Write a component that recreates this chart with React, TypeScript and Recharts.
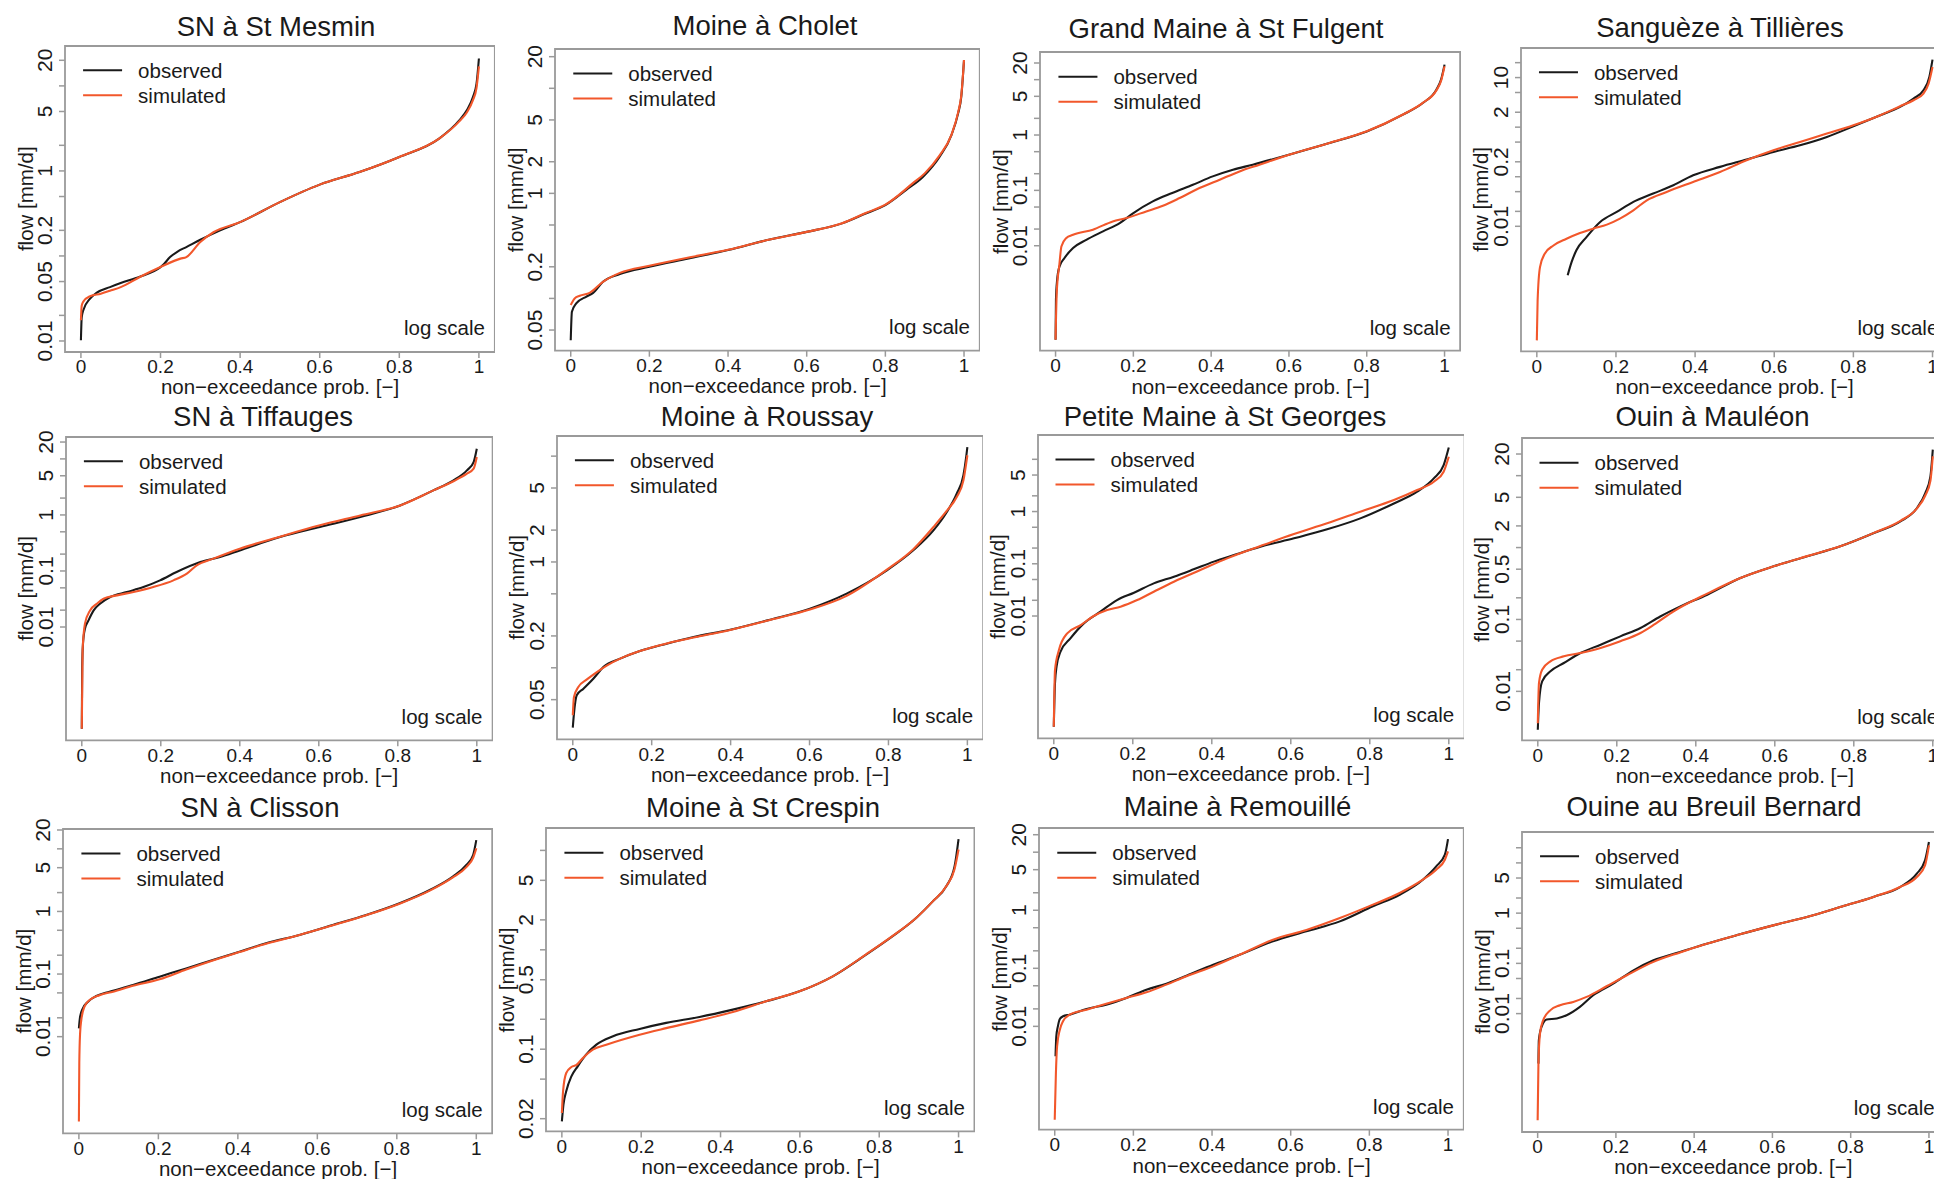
import React from 'react';
import { LineChart, Line, XAxis, YAxis, ReferenceArea } from 'recharts';

type Pt = [number, number];

const FONT = '"Liberation Sans", Arial, Helvetica, sans-serif';
const TEXT = '#1a1a1a';
const FRAME = '#9a9a9a';

const stationNames = [
  'SN à St Mesmin', 'Moine à Cholet', 'Grand Maine à St Fulgent', 'Sanguèze à Tillières',
  'SN à Tiffauges', 'Moine à Roussay', 'Petite Maine à St Georges', 'Ouin à Mauléon',
  'SN à Clisson', 'Moine à St Crespin', 'Maine à Remouillé', 'Ouine au Breuil Bernard',
];
const seriesNames = ['observed', 'simulated'];
const seriesColors = ['#1a1a1a', '#f2572b'];
const xTickValues = [0, 0.2, 0.4, 0.6, 0.8, 1];
const xAxisTitle = 'non−exceedance prob. [−]';
const yAxisTitle = 'flow [mm/d]';
const scaleNote = 'log scale';

// y ticks (all drawn) and labelled subsets, per panel
const yTicksA = [0.01, 0.02, 0.05, 0.1, 0.2, 0.5, 1, 2, 5, 10, 20];
const yTicksB = [0.05, 0.1, 0.2, 0.5, 1, 2, 5, 10, 20];
const yTicksC = [0.05, 0.1, 0.2, 0.5, 1, 2, 5, 10];
const yTicksD = [0.01, 0.02, 0.05, 0.1, 0.2, 0.5, 1, 2, 5, 10];
const yTicksE = [0.02, 0.05, 0.1, 0.2, 0.5, 1, 2, 5, 10];
const yTickSets = [yTicksA, yTicksB, yTicksA, yTicksA, yTicksA, yTicksC, yTicksD, yTicksA, yTicksA, yTicksE, yTicksA, yTicksA];
const yLabelSets = [
  [0.01, 0.05, 0.2, 1, 5, 20],
  [0.05, 0.2, 1, 2, 5, 20],
  [0.01, 0.1, 1, 5, 20],
  [0.01, 0.2, 2, 10],
  [0.01, 0.1, 1, 5, 20],
  [0.05, 0.2, 1, 2, 5],
  [0.01, 0.1, 1, 5],
  [0.01, 0.1, 0.5, 2, 5, 20],
  [0.01, 0.1, 1, 5, 20],
  [0.02, 0.1, 0.5, 2, 5],
  [0.01, 0.1, 1, 5, 20],
  [0.01, 0.1, 1, 5],
];

// ---- flow duration curves: [non-exceedance prob, flow mm/d] ----
const obs1: Pt[] = [[0,0.0102],[0.002,0.019],[0.006,0.023],[0.023,0.0315],[0.04,0.037],[0.073,0.043],[0.1,0.048],[0.148,0.057],[0.2,0.074],[0.206,0.078],[0.224,0.097],[0.242,0.112],[0.266,0.128],[0.3,0.155],[0.35,0.2],[0.4,0.25],[0.5,0.43],[0.6,0.69],[0.7,0.97],[0.8,1.46],[0.9,2.4],[0.95,3.9],[0.97,5.2],[0.985,7.4],[0.994,10.6],[1,21]];
const sim1: Pt[] = [[0,0.0175],[0.002,0.026],[0.006,0.029],[0.023,0.0336],[0.05,0.036],[0.073,0.039],[0.1,0.043],[0.148,0.0566],[0.2,0.074],[0.25,0.093],[0.265,0.097],[0.3,0.146],[0.333,0.19],[0.4,0.25],[0.5,0.43],[0.6,0.69],[0.7,0.97],[0.8,1.46],[0.9,2.4],[0.95,3.8],[0.97,4.9],[0.985,6.8],[0.994,9.5],[1,17]];

const obs2: Pt[] = [[0,0.04],[0.003,0.0746],[0.014,0.0897],[0.04,0.104],[0.057,0.113],[0.082,0.144],[0.125,0.171],[0.2,0.2],[0.3,0.24],[0.4,0.289],[0.506,0.364],[0.6,0.43],[0.69,0.518],[0.75,0.644],[0.8,0.774],[0.853,1.08],[0.896,1.44],[0.938,2.23],[0.968,3.59],[0.985,5.77],[0.993,8.3],[1,18.6]];
const sim2: Pt[] = [[0,0.0866],[0.01,0.1],[0.023,0.106],[0.048,0.113],[0.082,0.144],[0.125,0.175],[0.2,0.205],[0.3,0.245],[0.4,0.29],[0.506,0.364],[0.6,0.43],[0.69,0.52],[0.75,0.65],[0.8,0.78],[0.87,1.25],[0.9,1.55],[0.938,2.3],[0.968,3.6],[0.985,5.9],[0.993,8.5],[1,18.6]];

const obs3: Pt[] = [[0,0.0002],[0.001,0.00106],[0.004,0.0024],[0.01,0.0042],[0.023,0.006],[0.045,0.0091],[0.079,0.0128],[0.122,0.0182],[0.165,0.0257],[0.2,0.0389],[0.25,0.0632],[0.3,0.0895],[0.353,0.126],[0.404,0.179],[0.456,0.236],[0.507,0.291],[0.6,0.441],[0.704,0.716],[0.8,1.16],[0.893,2.33],[0.944,3.78],[0.979,6.59],[0.991,10],[1,18.7]];
const sim3: Pt[] = [[0,0.0002],[0.003,0.0014],[0.01,0.0047],[0.015,0.0097],[0.027,0.0137],[0.045,0.0158],[0.096,0.0195],[0.147,0.0275],[0.182,0.0316],[0.233,0.0417],[0.276,0.0528],[0.319,0.0727],[0.37,0.11],[0.422,0.156],[0.473,0.22],[0.524,0.291],[0.6,0.44],[0.704,0.72],[0.8,1.17],[0.893,2.35],[0.944,3.8],[0.979,6.4],[0.991,9.5],[1,17.5]];

const obs4: Pt[] = [[0.078,0.00103],[0.088,0.00191],[0.1,0.00328],[0.126,0.0061],[0.16,0.0122],[0.202,0.0195],[0.244,0.031],[0.294,0.0457],[0.345,0.0673],[0.395,0.107],[0.463,0.158],[0.53,0.222],[0.598,0.316],[0.665,0.431],[0.733,0.636],[0.8,1.04],[0.868,1.74],[0.918,2.56],[0.952,3.77],[0.977,5.55],[0.992,10.3],[1,23]];
const sim4: Pt[] = [[0,0.00005],[0.002,0.00032],[0.008,0.0015],[0.02,0.0028],[0.042,0.0041],[0.075,0.0056],[0.109,0.0073],[0.143,0.009],[0.177,0.0108],[0.21,0.0143],[0.244,0.021],[0.278,0.0335],[0.328,0.0493],[0.395,0.0785],[0.463,0.125],[0.53,0.215],[0.598,0.342],[0.665,0.503],[0.733,0.741],[0.8,1.09],[0.868,1.74],[0.918,2.64],[0.952,3.49],[0.977,4.75],[0.99,7.57],[1,16.4]];

const obs5: Pt[] = [[0,0.000153],[0.001,0.00193],[0.003,0.005],[0.008,0.0093],[0.017,0.0131],[0.03,0.0198],[0.046,0.026],[0.072,0.0343],[0.114,0.0421],[0.156,0.0516],[0.198,0.068],[0.24,0.0957],[0.3,0.144],[0.35,0.177],[0.4,0.233],[0.502,0.403],[0.603,0.609],[0.705,0.918],[0.806,1.48],[0.89,2.74],[0.941,4.14],[0.975,6.24],[0.992,8.8],[1,15.2]];
const sim5: Pt[] = [[0,0.000153],[0.002,0.0038],[0.008,0.0115],[0.021,0.0198],[0.038,0.026],[0.055,0.032],[0.089,0.0367],[0.131,0.0421],[0.181,0.0516],[0.232,0.068],[0.266,0.0893],[0.291,0.126],[0.333,0.166],[0.4,0.25],[0.502,0.41],[0.603,0.652],[0.705,0.98],[0.806,1.48],[0.89,2.74],[0.941,4],[0.975,5.45],[0.992,6.69],[1,10.8]];

const obs6: Pt[] = [[0,0.0272],[0.003,0.0369],[0.01,0.055],[0.027,0.0635],[0.052,0.0789],[0.078,0.102],[0.12,0.122],[0.17,0.144],[0.238,0.169],[0.306,0.195],[0.399,0.229],[0.5,0.285],[0.601,0.362],[0.694,0.502],[0.796,0.834],[0.863,1.29],[0.914,1.99],[0.948,2.97],[0.973,4.42],[0.99,6.59],[0.997,9.82],[1,12.2]];
const sim6: Pt[] = [[0,0.0356],[0.003,0.053],[0.014,0.0659],[0.035,0.0773],[0.061,0.0912],[0.086,0.105],[0.12,0.122],[0.17,0.144],[0.238,0.17],[0.306,0.193],[0.399,0.228],[0.5,0.283],[0.601,0.355],[0.694,0.478],[0.796,0.845],[0.863,1.32],[0.914,2.14],[0.948,3.05],[0.973,4.11],[0.99,5.9],[1,10.2]];

const obs7: Pt[] = [[0,0.000076],[0.003,0.00051],[0.007,0.00107],[0.017,0.00207],[0.042,0.00373],[0.076,0.00723],[0.118,0.0121],[0.16,0.0202],[0.203,0.0279],[0.253,0.0422],[0.304,0.0566],[0.354,0.0782],[0.405,0.11],[0.456,0.147],[0.523,0.212],[0.608,0.307],[0.692,0.456],[0.776,0.74],[0.861,1.43],[0.92,2.4],[0.962,4.32],[0.987,7.77],[1,16.9]];
const sim7: Pt[] = [[0,0.000076],[0.003,0.00092],[0.013,0.00223],[0.034,0.00466],[0.068,0.0067],[0.101,0.01],[0.135,0.013],[0.169,0.0151],[0.211,0.0202],[0.253,0.0292],[0.304,0.0454],[0.371,0.0759],[0.439,0.127],[0.523,0.219],[0.608,0.371],[0.692,0.594],[0.776,0.993],[0.861,1.66],[0.92,2.58],[0.962,3.72],[0.987,5.8],[1,11.2]];

const obs8: Pt[] = [[0,0.00293],[0.003,0.0069],[0.011,0.0138],[0.032,0.019],[0.066,0.0248],[0.108,0.0341],[0.159,0.0446],[0.209,0.0582],[0.26,0.076],[0.31,0.11],[0.361,0.152],[0.429,0.221],[0.513,0.377],[0.597,0.548],[0.682,0.755],[0.766,1.04],[0.851,1.59],[0.918,2.31],[0.96,3.55],[0.981,5.74],[0.994,9.78],[1,23]];
const sim8: Pt[] = [[0,0.0036],[0.003,0.0131],[0.011,0.02],[0.032,0.0261],[0.066,0.0307],[0.108,0.0341],[0.159,0.0401],[0.209,0.0497],[0.26,0.0648],[0.294,0.0845],[0.344,0.13],[0.429,0.229],[0.513,0.377],[0.597,0.548],[0.682,0.76],[0.766,1.04],[0.851,1.6],[0.918,2.35],[0.96,3.5],[0.981,5.3],[0.994,8.5],[1,18.6]];

const obs9: Pt[] = [[0,0.0136],[0.003,0.0208],[0.01,0.0283],[0.023,0.0362],[0.044,0.0446],[0.077,0.0523],[0.136,0.0668],[0.203,0.0908],[0.27,0.123],[0.337,0.168],[0.404,0.228],[0.471,0.31],[0.555,0.421],[0.639,0.607],[0.723,0.877],[0.807,1.35],[0.883,2.2],[0.941,3.6],[0.975,5.52],[0.992,7.98],[1,13.8]];
const sim9: Pt[] = [[0,0.00044],[0.001,0.00375],[0.003,0.0113],[0.006,0.0184],[0.014,0.0301],[0.027,0.0385],[0.052,0.046],[0.086,0.0523],[0.136,0.065],[0.203,0.0824],[0.27,0.118],[0.337,0.165],[0.404,0.225],[0.471,0.305],[0.555,0.42],[0.639,0.6],[0.723,0.87],[0.807,1.33],[0.883,2.15],[0.941,3.5],[0.975,5.1],[0.992,7.2],[1,10.2]];

const obs10: Pt[] = [[0,0.0188],[0.004,0.0277],[0.011,0.0377],[0.024,0.0533],[0.04,0.0673],[0.061,0.0881],[0.087,0.111],[0.129,0.135],[0.196,0.16],[0.263,0.184],[0.347,0.211],[0.431,0.25],[0.515,0.303],[0.599,0.382],[0.683,0.541],[0.767,0.894],[0.834,1.37],[0.893,2.09],[0.935,3.07],[0.969,4.35],[0.99,6.92],[1,13]];
const sim10: Pt[] = [[0,0.0228],[0.003,0.0377],[0.011,0.0576],[0.024,0.0662],[0.036,0.069],[0.053,0.0817],[0.078,0.099],[0.112,0.111],[0.196,0.14],[0.263,0.163],[0.347,0.195],[0.431,0.237],[0.515,0.303],[0.599,0.382],[0.683,0.541],[0.767,0.9],[0.834,1.38],[0.893,2.09],[0.935,3.07],[0.969,4.35],[0.99,6.5],[1,10.2]];

const obs11: Pt[] = [[0.002,0.00305],[0.004,0.00673],[0.008,0.01],[0.013,0.0134],[0.021,0.0149],[0.038,0.0159],[0.081,0.0199],[0.131,0.0236],[0.182,0.0308],[0.233,0.0428],[0.284,0.0543],[0.335,0.0746],[0.403,0.115],[0.47,0.171],[0.555,0.291],[0.64,0.433],[0.725,0.643],[0.809,1.17],[0.877,1.85],[0.936,3.36],[0.97,5.7],[0.992,9.06],[1,16.8]];
const sim11: Pt[] = [[0,0.000247],[0.003,0.00157],[0.006,0.00453],[0.013,0.00877],[0.021,0.0122],[0.038,0.0159],[0.081,0.0194],[0.131,0.0245],[0.182,0.0308],[0.233,0.0385],[0.284,0.0523],[0.335,0.0729],[0.403,0.108],[0.47,0.171],[0.555,0.311],[0.64,0.458],[0.725,0.735],[0.809,1.25],[0.877,1.98],[0.936,3.36],[0.97,4.99],[0.992,7.42],[1,10.3]];

const obs12: Pt[] = [[0.002,0.00101],[0.003,0.00295],[0.01,0.00543],[0.023,0.0076],[0.049,0.008],[0.074,0.00927],[0.108,0.0136],[0.142,0.0232],[0.193,0.0395],[0.245,0.0728],[0.296,0.115],[0.364,0.169],[0.432,0.247],[0.517,0.379],[0.602,0.571],[0.688,0.838],[0.773,1.32],[0.858,2.1],[0.926,3.31],[0.969,6.1],[0.99,11.2],[1,26]];
const sim12: Pt[] = [[0,0.0000755],[0.002,0.001],[0.006,0.004],[0.014,0.00736],[0.032,0.0116],[0.057,0.0147],[0.091,0.0171],[0.125,0.0215],[0.176,0.035],[0.228,0.058],[0.296,0.107],[0.364,0.165],[0.432,0.245],[0.517,0.379],[0.602,0.571],[0.688,0.838],[0.773,1.32],[0.858,2.1],[0.926,3.31],[0.969,5.24],[0.99,8.93],[1,22.3]];

const observedSets = [obs1, obs2, obs3, obs4, obs5, obs6, obs7, obs8, obs9, obs10, obs11, obs12];
const simulatedSets = [sim1, sim2, sim3, sim4, sim5, sim6, sim7, sim8, sim9, sim10, sim11, sim12];

// y-axis ranges (log scale) per panel
const yDomains: [number, number][] = [
  [0.00742, 29.45], [0.0318, 23.67], [0.000127, 31.6], [0.0000301, 39.5],
  [0.0000951, 24.6], [0.0211, 15.5], [0.0000456, 29.2], [0.00208, 33.4],
  [0.000286, 20.74], [0.0149, 16.8], [0.000166, 26.1], [0.000044, 41.2],
];

// ---- layout (pixel positions of each panel) ----
const panelLayout = [
  { x0: 81, x1: 479, top: 45.7, bottom: 351.7, titleX: 276, titleY: 26 },
  { x0: 571, x1: 964.3, top: 49, bottom: 350.7, titleX: 765, titleY: 25 },
  { x0: 1056, x1: 1445, top: 52.3, bottom: 351, titleX: 1226, titleY: 28 },
  { x0: 1536.8, x1: 1932.5, top: 47.7, bottom: 351, titleX: 1720, titleY: 27 },
  { x0: 81.7, x1: 476.7, top: 436.7, bottom: 740, titleX: 263, titleY: 416.5 },
  { x0: 572.7, x1: 967.3, top: 435.7, bottom: 739, titleX: 767, titleY: 416.5 },
  { x0: 1053.3, x1: 1448.3, top: 435, bottom: 738.3, titleX: 1225, titleY: 416.5 },
  { x0: 1537.3, x1: 1932.3, top: 438.3, bottom: 740.7, titleX: 1712.5, titleY: 416.5 },
  { x0: 79.3, x1: 476.7, top: 829, bottom: 1133.3, titleX: 260, titleY: 807 },
  { x0: 562.3, x1: 959, top: 828.3, bottom: 1131.7, titleX: 763, titleY: 807 },
  { x0: 1055, x1: 1448.3, top: 828.3, bottom: 1130, titleX: 1237.5, titleY: 806.5 },
  { x0: 1537.7, x1: 1929, top: 831.7, bottom: 1131.7, titleX: 1714, titleY: 806 },
];

const YW = 70;
const XH = 60;
const MT = 24;
const XPAD = 0.04;

function box(k: number) {
  const L = panelLayout[k];
  const s = L.x1 - L.x0;
  const left = L.x0 - XPAD * s;
  const right = L.x1 + XPAD * s;
  return { left, right, top: L.top, bottom: L.bottom, w: right - left, h: L.bottom - L.top };
}

function Panel({ k }: { k: number }) {
  const b = box(k);
  const [lo, hi] = yDomains[k];
  const labels = yLabelSets[k];
  const sets = [observedSets[k], simulatedSets[k]].map((arr) => arr.map(([p, q]) => ({ p, q })));
  const renderX = (props: any) => (
    <text x={props.x} y={MT + b.h + 15} textAnchor="middle" dominantBaseline="central"
      fontSize={19} fontFamily={FONT} fill={TEXT}>{String(props.payload.value)}</text>
  );
  const renderY = (props: any) => {
    const v = props.payload.value;
    if (!labels.some((l) => Math.abs(l - v) < 1e-12)) return <g />;
    const cx = YW - 20;
    return (
      <text x={cx} y={props.y} transform={`rotate(-90 ${cx} ${props.y})`} textAnchor="middle"
        dominantBaseline="central" fontSize={21} fontFamily={FONT} fill={TEXT}>{String(v)}</text>
    );
  };
  return (
    <div style={{ position: 'absolute', left: b.left - YW, top: b.top - MT }}>
      <LineChart width={b.w + YW} height={b.h + XH + MT} margin={{ top: MT, right: 0, bottom: 0, left: 0 }}>
        <XAxis dataKey="p" type="number" domain={[-XPAD, 1 + XPAD]} ticks={xTickValues} interval={0}
          allowDataOverflow height={XH} tickSize={6} tickMargin={0} axisLine={false}
          tickLine={{ stroke: FRAME, strokeWidth: 1.5 }} tick={renderX} />
        <YAxis dataKey="q" type="number" scale="log" domain={[lo, hi]} ticks={yTickSets[k]} interval={0}
          allowDataOverflow width={YW} tickSize={6} tickMargin={0} axisLine={false}
          tickLine={{ stroke: FRAME, strokeWidth: 1.5 }} tick={renderY} />
        <ReferenceArea x1={-XPAD} x2={1 + XPAD} y1={lo} y2={hi} fill="none" fillOpacity={0}
          stroke={FRAME} strokeWidth={1.8} ifOverflow="visible" />
        {sets.map((d, i) => (
          <Line key={seriesNames[i]} data={d} dataKey="q" name={seriesNames[i]} type="monotone"
            stroke={seriesColors[i]} strokeWidth={2.1} dot={false} activeDot={false}
            isAnimationActive={false} />
        ))}
      </LineChart>
    </div>
  );
}

function Annotations({ k }: { k: number }) {
  const b = box(k);
  const L = panelLayout[k];
  const cy = (b.top + b.bottom) / 2;
  const ylx = b.left - 40;
  return (
    <g fontFamily={FONT} fill={TEXT}>
      <text x={L.titleX} y={L.titleY} textAnchor="middle" dominantBaseline="central" fontSize={27.5}>
        {stationNames[k]}
      </text>
      <text x={(b.left + b.right) / 2} y={b.bottom + 35} textAnchor="middle" dominantBaseline="central" fontSize={20.5}>
        {xAxisTitle}
      </text>
      <text x={ylx} y={cy} transform={`rotate(-90 ${ylx} ${cy})`} textAnchor="middle" dominantBaseline="central" fontSize={20.5}>
        {yAxisTitle}
      </text>
      {seriesNames.map((n, i) => {
        const y = b.top + 24.5 + i * 25;
        return (
          <g key={n}>
            <line x1={b.left + 18} x2={b.left + 57} y1={y} y2={y} stroke={seriesColors[i]} strokeWidth={2.1} />
            <text x={b.left + 73} y={y} dominantBaseline="central" fontSize={20.5}>{n}</text>
          </g>
        );
      })}
      <text x={b.right - 10} y={b.bottom - 24} textAnchor="end" dominantBaseline="central" fontSize={20.5}>
        {scaleNote}
      </text>
    </g>
  );
}

export default function App() {
  const ids = stationNames.map((_, k) => k);
  return (
    <div style={{ position: 'absolute', left: 0, top: 0, width: 1934, height: 1179, overflow: 'hidden', background: '#fff' }}>
      {ids.map((k) => <Panel key={k} k={k} />)}
      <svg width={1934} height={1179} style={{ position: 'absolute', left: 0, top: 0, pointerEvents: 'none' }}>
        {ids.map((k) => <Annotations key={k} k={k} />)}
      </svg>
    </div>
  );
}
